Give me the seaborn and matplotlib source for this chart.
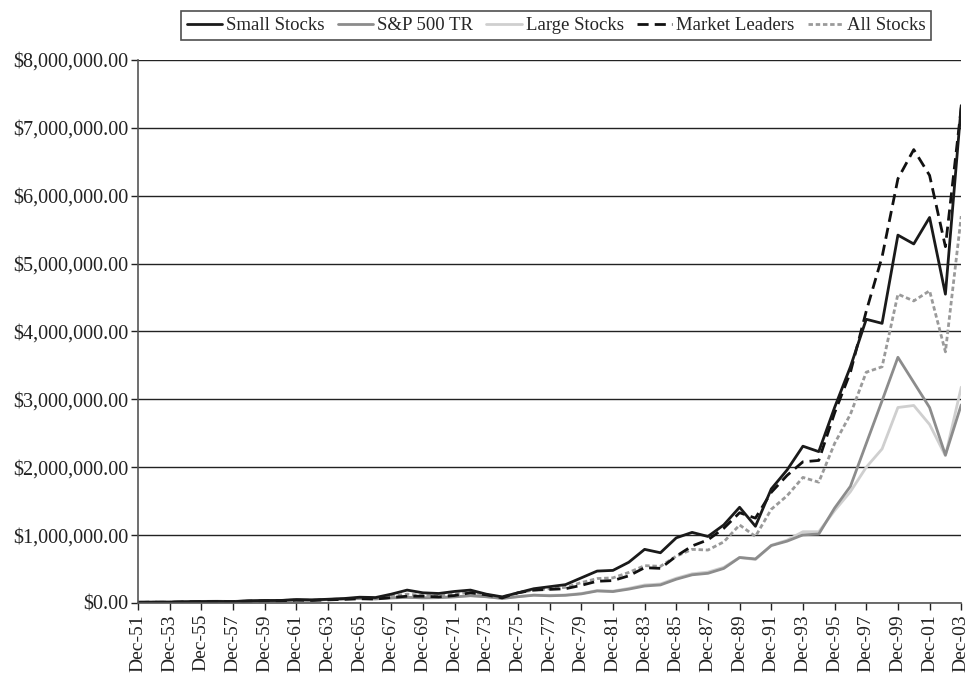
import numpy as np
import pandas as pd
import matplotlib
matplotlib.use("Agg")
import matplotlib.pyplot as plt
import seaborn as sns
from matplotlib.ticker import FuncFormatter

# ~ year-end values (millions of dollars), Dec-51 .. Dec-03
years = list(range(1951, 2004))

small_stocks = [0.010, 0.012, 0.012, 0.018, 0.021, 0.023, 0.020, 0.031, 0.036, 0.037,
                0.050, 0.045, 0.055, 0.065, 0.085, 0.080, 0.130, 0.190, 0.150, 0.140,
                0.170, 0.190, 0.130, 0.090, 0.150, 0.210, 0.240, 0.270, 0.370, 0.470,
                0.480, 0.600, 0.790, 0.740, 0.960, 1.040, 0.980, 1.150, 1.410, 1.130,
                1.680, 1.960, 2.310, 2.230, 2.880, 3.480, 4.180, 4.120, 5.420, 5.290,
                5.680, 4.550, 7.330]

sp500_tr = [0.010, 0.012, 0.012, 0.018, 0.023, 0.025, 0.022, 0.032, 0.036, 0.036,
            0.046, 0.042, 0.051, 0.060, 0.067, 0.060, 0.075, 0.083, 0.076, 0.079,
            0.090, 0.107, 0.092, 0.067, 0.092, 0.114, 0.106, 0.113, 0.134, 0.177,
            0.168, 0.204, 0.250, 0.266, 0.350, 0.415, 0.437, 0.509, 0.670, 0.649,
            0.846, 0.911, 1.003, 1.016, 1.398, 1.719, 2.350, 2.980, 3.620, 3.250,
            2.880, 2.180, 2.920]

large_stocks = [0.010, 0.012, 0.012, 0.017, 0.022, 0.024, 0.022, 0.031, 0.035, 0.036,
                0.045, 0.042, 0.050, 0.058, 0.065, 0.060, 0.074, 0.082, 0.076, 0.078,
                0.090, 0.108, 0.092, 0.068, 0.095, 0.118, 0.112, 0.118, 0.140, 0.183,
                0.175, 0.215, 0.265, 0.280, 0.365, 0.430, 0.455, 0.525, 0.670, 0.640,
                0.850, 0.925, 1.050, 1.050, 1.360, 1.640, 2.000, 2.270, 2.880, 2.910,
                2.630, 2.170, 3.180]

market_leaders = [0.010, 0.011, 0.011, 0.016, 0.019, 0.021, 0.019, 0.027, 0.031, 0.032,
                  0.041, 0.038, 0.046, 0.053, 0.062, 0.058, 0.080, 0.100, 0.100, 0.090,
                  0.110, 0.150, 0.120, 0.075, 0.150, 0.190, 0.200, 0.210, 0.260, 0.320,
                  0.330, 0.400, 0.520, 0.510, 0.690, 0.840, 0.930, 1.100, 1.330, 1.250,
                  1.630, 1.880, 2.080, 2.100, 2.800, 3.400, 4.300, 5.100, 6.250, 6.680,
                  6.300, 5.250, 7.300]

all_stocks = [0.010, 0.011, 0.012, 0.017, 0.020, 0.022, 0.020, 0.029, 0.034, 0.035,
              0.046, 0.042, 0.051, 0.060, 0.075, 0.070, 0.100, 0.130, 0.110, 0.100,
              0.130, 0.160, 0.120, 0.085, 0.150, 0.190, 0.210, 0.230, 0.300, 0.360,
              0.370, 0.450, 0.550, 0.540, 0.690, 0.790, 0.780, 0.900, 1.150, 0.980,
              1.380, 1.580, 1.850, 1.780, 2.350, 2.780, 3.400, 3.480, 4.550, 4.450,
              4.600, 3.700, 5.700]

tick_labels = ["Dec-%02d" % (y % 100) for y in years]

df = pd.DataFrame({
    "idx": np.arange(len(years)),
    "Small Stocks": np.array(small_stocks) * 1e6,
    "S&P 500 TR": np.array(sp500_tr) * 1e6,
    "Large Stocks": np.array(large_stocks) * 1e6,
    "Market Leaders": np.array(market_leaders) * 1e6,
    "All Stocks": np.array(all_stocks) * 1e6,
})

sns.set_style("white")
plt.rcParams['font.family'] = ['Liberation Serif', 'DejaVu Serif']

fig = plt.figure(figsize=(9.69, 6.75), dpi=100)
ax = fig.add_axes([0.1424, 0.1067, 0.8496, 0.8044])

# ~ draw order: lighter first, small stocks on top
styles = {
    "All Stocks": dict(color="#9a9a9a", linestyle=(0, (1.6, 1.0)), lw=2.0),
    "Large Stocks": dict(color="#cfcfcf", linestyle="-", lw=2.0),
    "S&P 500 TR": dict(color="#8c8c8c", linestyle="-", lw=2.0),
    "Market Leaders": dict(color="#111111", linestyle=(0, (4.0, 2.2)), lw=2.0),
    "Small Stocks": dict(color="#1a1a1a", linestyle="-", lw=2.0),
}
handles = {}
for name, st in styles.items():
    sns.lineplot(data=df, x="idx", y=name, ax=ax, color=st["color"], lw=st["lw"],
                 linestyle=st["linestyle"], label=name, legend=False)
    handles[name] = ax.lines[-1]

ax.set_xlim(0, len(years) - 1)
ax.set_ylim(0, 8e6)
ax.set_yticks(np.arange(0, 8.01e6, 1e6))
ax.yaxis.set_major_formatter(FuncFormatter(lambda v, p: "${:,.2f}".format(v)))
ax.set_xticks(np.arange(0, len(years), 2))
ax.set_xticklabels(tick_labels[::2], rotation=90)
ax.set_xlabel("")
ax.set_ylabel("")
ax.tick_params(axis="both", colors="#222222", length=5, width=1,
               direction="out", bottom=True, left=True)
ax.tick_params(axis="y", labelsize=14.5, pad=2)
ax.tick_params(axis="x", labelsize=14, pad=3)
ax.yaxis.grid(True, color="#222222", lw=1)
ax.set_axisbelow(True)
for s in ["top", "right"]:
    ax.spines[s].set_visible(False)
for s in ["left", "bottom"]:
    ax.spines[s].set_color("#555555")
    ax.spines[s].set_linewidth(1.2)

order = ["Small Stocks", "S&P 500 TR", "Large Stocks", "Market Leaders", "All Stocks"]
leg = fig.legend([handles[n] for n in order], order, loc="center",
                 bbox_to_anchor=(0.574, 0.962), ncol=5, frameon=True, fancybox=False,
                 edgecolor="#222222", fontsize=13.5, handlelength=1.9, handletextpad=0.2,
                 columnspacing=0.7, borderpad=0.3)
leg.get_frame().set_linewidth(1.2)

fig.savefig("out.png", dpi=100)
